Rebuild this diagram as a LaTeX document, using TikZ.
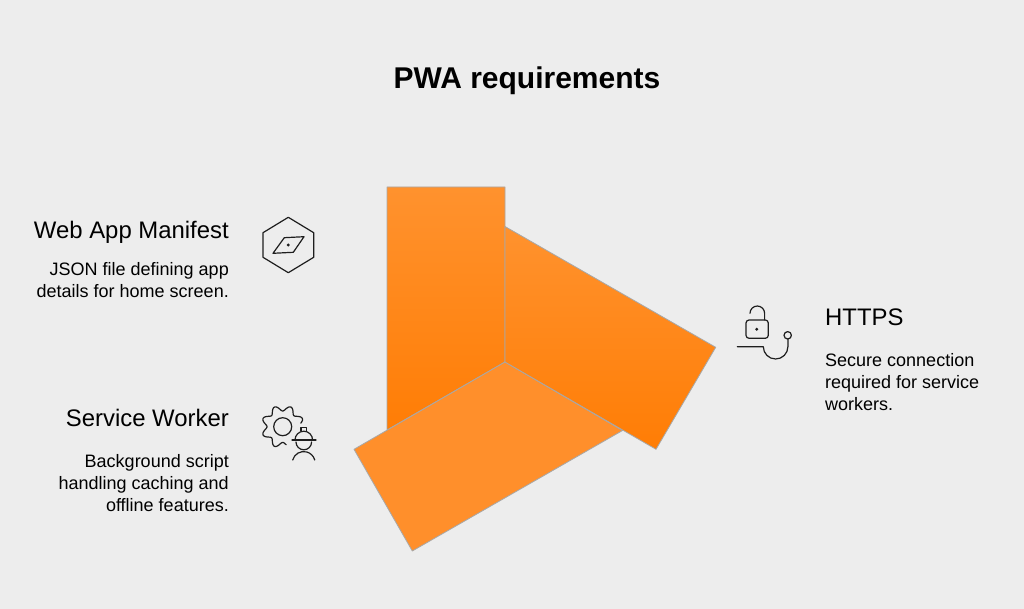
\documentclass[tikz,border=0pt]{standalone}
\usepackage{fontspec}
\setmainfont{Liberation Sans}
\definecolor{bg}{HTML}{EDEDED}
\definecolor{topor}{HTML}{FF922E}
\definecolor{botor}{HTML}{FF7D05}
\definecolor{flator}{HTML}{FF8F2B}
\definecolor{edge}{HTML}{A8A8A8}
\definecolor{ink}{HTML}{1E1E1E}
\tikzset{
  panel/.style={draw=edge,line width=0.8pt,line join=round},
  icon/.style={draw=ink,line width=1.2pt,line join=round,line cap=round,fill=none},
  head/.style={font=\fontsize{23.9}{28}\selectfont,text=black,inner sep=0pt},
  body/.style={font=\fontsize{18}{22}\selectfont,text=black,inner sep=0pt},
}
\begin{document}
\begin{tikzpicture}[x=1pt,y=-1pt]
\useasboundingbox[fill=bg] (0,0) rectangle (1024,609);
\node[inner sep=0pt,font=\bfseries\fontsize{30}{34}\selectfont] (title) at (527,81) {PWA requirements};
% panels
\path[panel,top color=topor,bottom color=botor] (387,187) -- (505,187) -- (505,362) -- (387,430) -- cycle;
\path[panel,fill=flator] (354,449.3) -- (505,362) -- (622.5,430.5) -- (412.3,551) -- cycle;
\path[panel,top color=topor,bottom color=botor] (505,226.5) -- (715.7,347.3) -- (656,449.3) -- (505,362) -- cycle;
% texts
\node[head,anchor=base east] (wam) at (229,239) {Web App Manifest};
\node[body,anchor=north east,align=right] (wamt) at (229,262) {JSON file defining app\\details for home screen.};
\node[head,anchor=base east] (sw) at (229,426) {Service Worker};
\node[body,anchor=north east,align=right] (swt) at (229,454) {Background script\\handling caching and\\offline features.};
\node[head,anchor=base west] (https) at (825,325) {HTTPS};
\node[body,anchor=north west,align=left] (httpst) at (825,353) {Secure connection\\required for service\\workers.};
% hexagon icon
\draw[icon] (288.3,217.3) -- (313.7,232.7) -- (313.7,257.3) -- (288.3,272.7) -- (263,257.3) -- (263,232.7) -- cycle;
\draw[icon] (284.3,237.7) -- (304,236.7) -- (293.3,252.3) -- (273,253.3) -- cycle;
\fill[ink] (288.3,245) circle (1.6);
% gear icon
\draw[icon,smooth,samples=120,domain=11:281] plot ({282.7+(18.5+2.8*cos(8*(\x-22.5)))*cos(\x)},{426.7-(18.5+2.8*cos(8*(\x-22.5)))*sin(\x)});
\draw[icon] (282.7,426.7) circle (9);
\draw[icon] (301,431) -- (301,427.5) -- (306.7,427.5) -- (306.7,431);
\draw[icon] (295,440) arc[start angle=180,end angle=360,radius=8.8];
\draw[icon] (292,440) -- (316,440);
\draw[icon] (296,442) arc[start angle=180,end angle=0,radius=7.8];
\draw[icon] (292.7,460) arc[start angle=-165,end angle=-15,radius=11.4];
% lock icon
\draw[icon,rounded corners=3pt] (746,320) rectangle (768.3,338.3);
\fill[ink] (756.7,329.3) circle (1.6);
\draw[icon] (750,313.3) arc[start angle=180,end angle=360,radius=7.3] -- (764.6,320);
\draw[icon] (737.3,346.7) -- (763.3,346.7) arc[start angle=180,end angle=0,radius=12.3] -- (788,339.3);
\draw[icon] (787.7,335.3) circle (3.7);
\end{tikzpicture}
\end{document}
